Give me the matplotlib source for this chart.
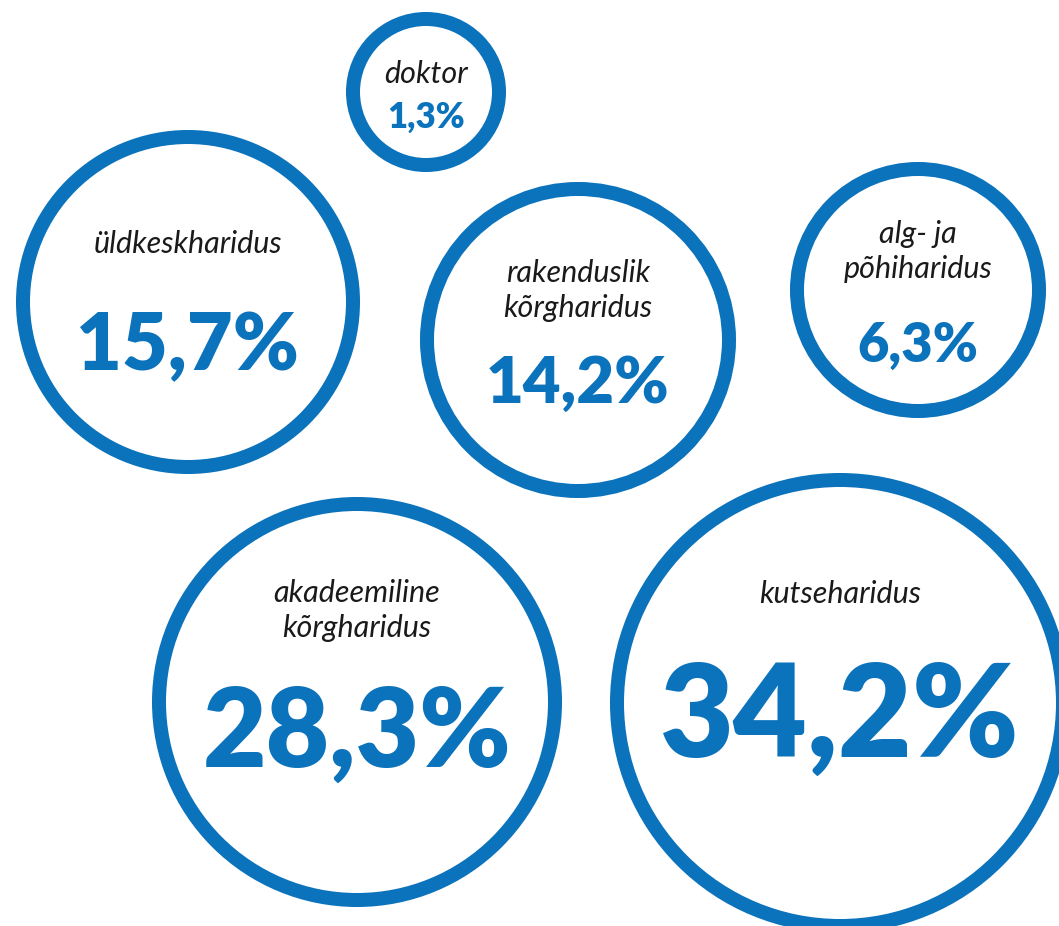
import matplotlib.pyplot as plt
from matplotlib.patches import Circle

# education levels and their shares (%)
labels = ["doktor", "üldkeskharidus", "rakenduslik\nkõrgharidus",
          "alg- ja\npõhiharidus", "akadeemiline\nkõrgharidus", "kutseharidus"]
shares = [1.3, 15.7, 14.2, 6.3, 28.3, 34.2]

# layout in pixels (image coords, y down)
cx = [426, 188, 578, 918, 357, 840]
cy = [92, 302, 340, 290, 702, 703]
r_outer = [80, 172, 158, 128, 205, 230]
label_y = [83, 253, 282, 243, 602, 603]
value_y = [128, 370, 403, 362, 767, 757]
value_size = [25, 57, 47, 39, 79, 92]

BLUE = "#0b72bc"
RING = 14  # px

W, H = 1059, 926
fig = plt.figure(figsize=(W / 100, H / 100), dpi=100)
ax = fig.add_axes([0, 0, 1, 1])
ax.set_xlim(0, W)
ax.set_ylim(H, 0)
ax.set_aspect("equal")
ax.axis("off")

for i, lab in enumerate(labels):
    ax.add_patch(Circle((cx[i], cy[i]), r_outer[i] - RING / 2, fill=False,
                        edgecolor=BLUE, linewidth=RING * 0.72))
    for j, line in enumerate(lab.split("\n")):
        ax.text(cx[i], label_y[i] + j * 35, line, ha="center", va="baseline",
                fontsize=22, family="Lato", style="italic", weight="normal",
                color="#1a1a1a")
    txt = f"{shares[i]:.1f}%".replace(".", ",")
    ax.text(cx[i], value_y[i], txt, ha="center", va="baseline",
            fontsize=value_size[i], family="Lato", weight="heavy", color=BLUE)

fig.savefig("out.png", dpi=100, facecolor="white")
plt.close(fig)
